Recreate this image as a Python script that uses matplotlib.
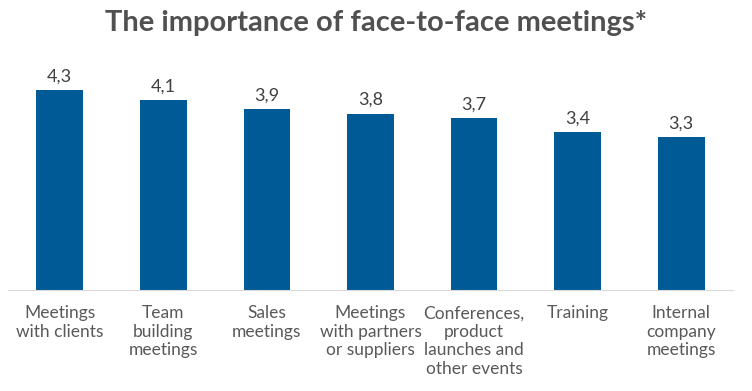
import matplotlib.pyplot as plt

categories = ["Meetings\nwith clients", "Team\nbuilding\nmeetings", "Sales\nmeetings",
              "Meetings\nwith partners\nor suppliers", "Conferences,\nproduct\nlaunches and\nother events",
              "Training", "Internal\ncompany\nmeetings"]
values = [4.3, 4.1, 3.9, 3.8, 3.7, 3.4, 3.3]

plt.rcParams['font.family'] = ['Lato', 'DejaVu Sans']

fig = plt.figure(figsize=(7.52, 3.91), dpi=100)
ax = fig.add_axes([8 / 752, 101 / 391, 725 / 752, 232 / 391])

x = range(len(values))
bars = ax.bar(x, values, width=0.45, color="#005A96")

for b, v in zip(bars, values):
    ax.text(b.get_x() + b.get_width() / 2, v + 0.12, f"{v:.1f}".replace(".", ","),
            ha="center", va="bottom", fontsize=13, color="#404040")

ax.set_xlim(-0.5, len(values) - 0.5)
ax.set_ylim(0, 5.0)
ax.set_xticks(list(x))
ax.set_xticklabels(categories, fontsize=12.5, color="#595959", linespacing=1.2)
ax.tick_params(axis="x", length=0, pad=11)
ax.set_yticks([])
for s in ["top", "right", "left"]:
    ax.spines[s].set_visible(False)
ax.spines["bottom"].set_color("#D9D9D9")

fig.text(0.5, 1 - 23 / 391, "The importance of face-to-face meetings*", ha="center", va="center",
         fontsize=21, fontweight="bold", color="#505050")

fig.savefig("out.png", dpi=100)
